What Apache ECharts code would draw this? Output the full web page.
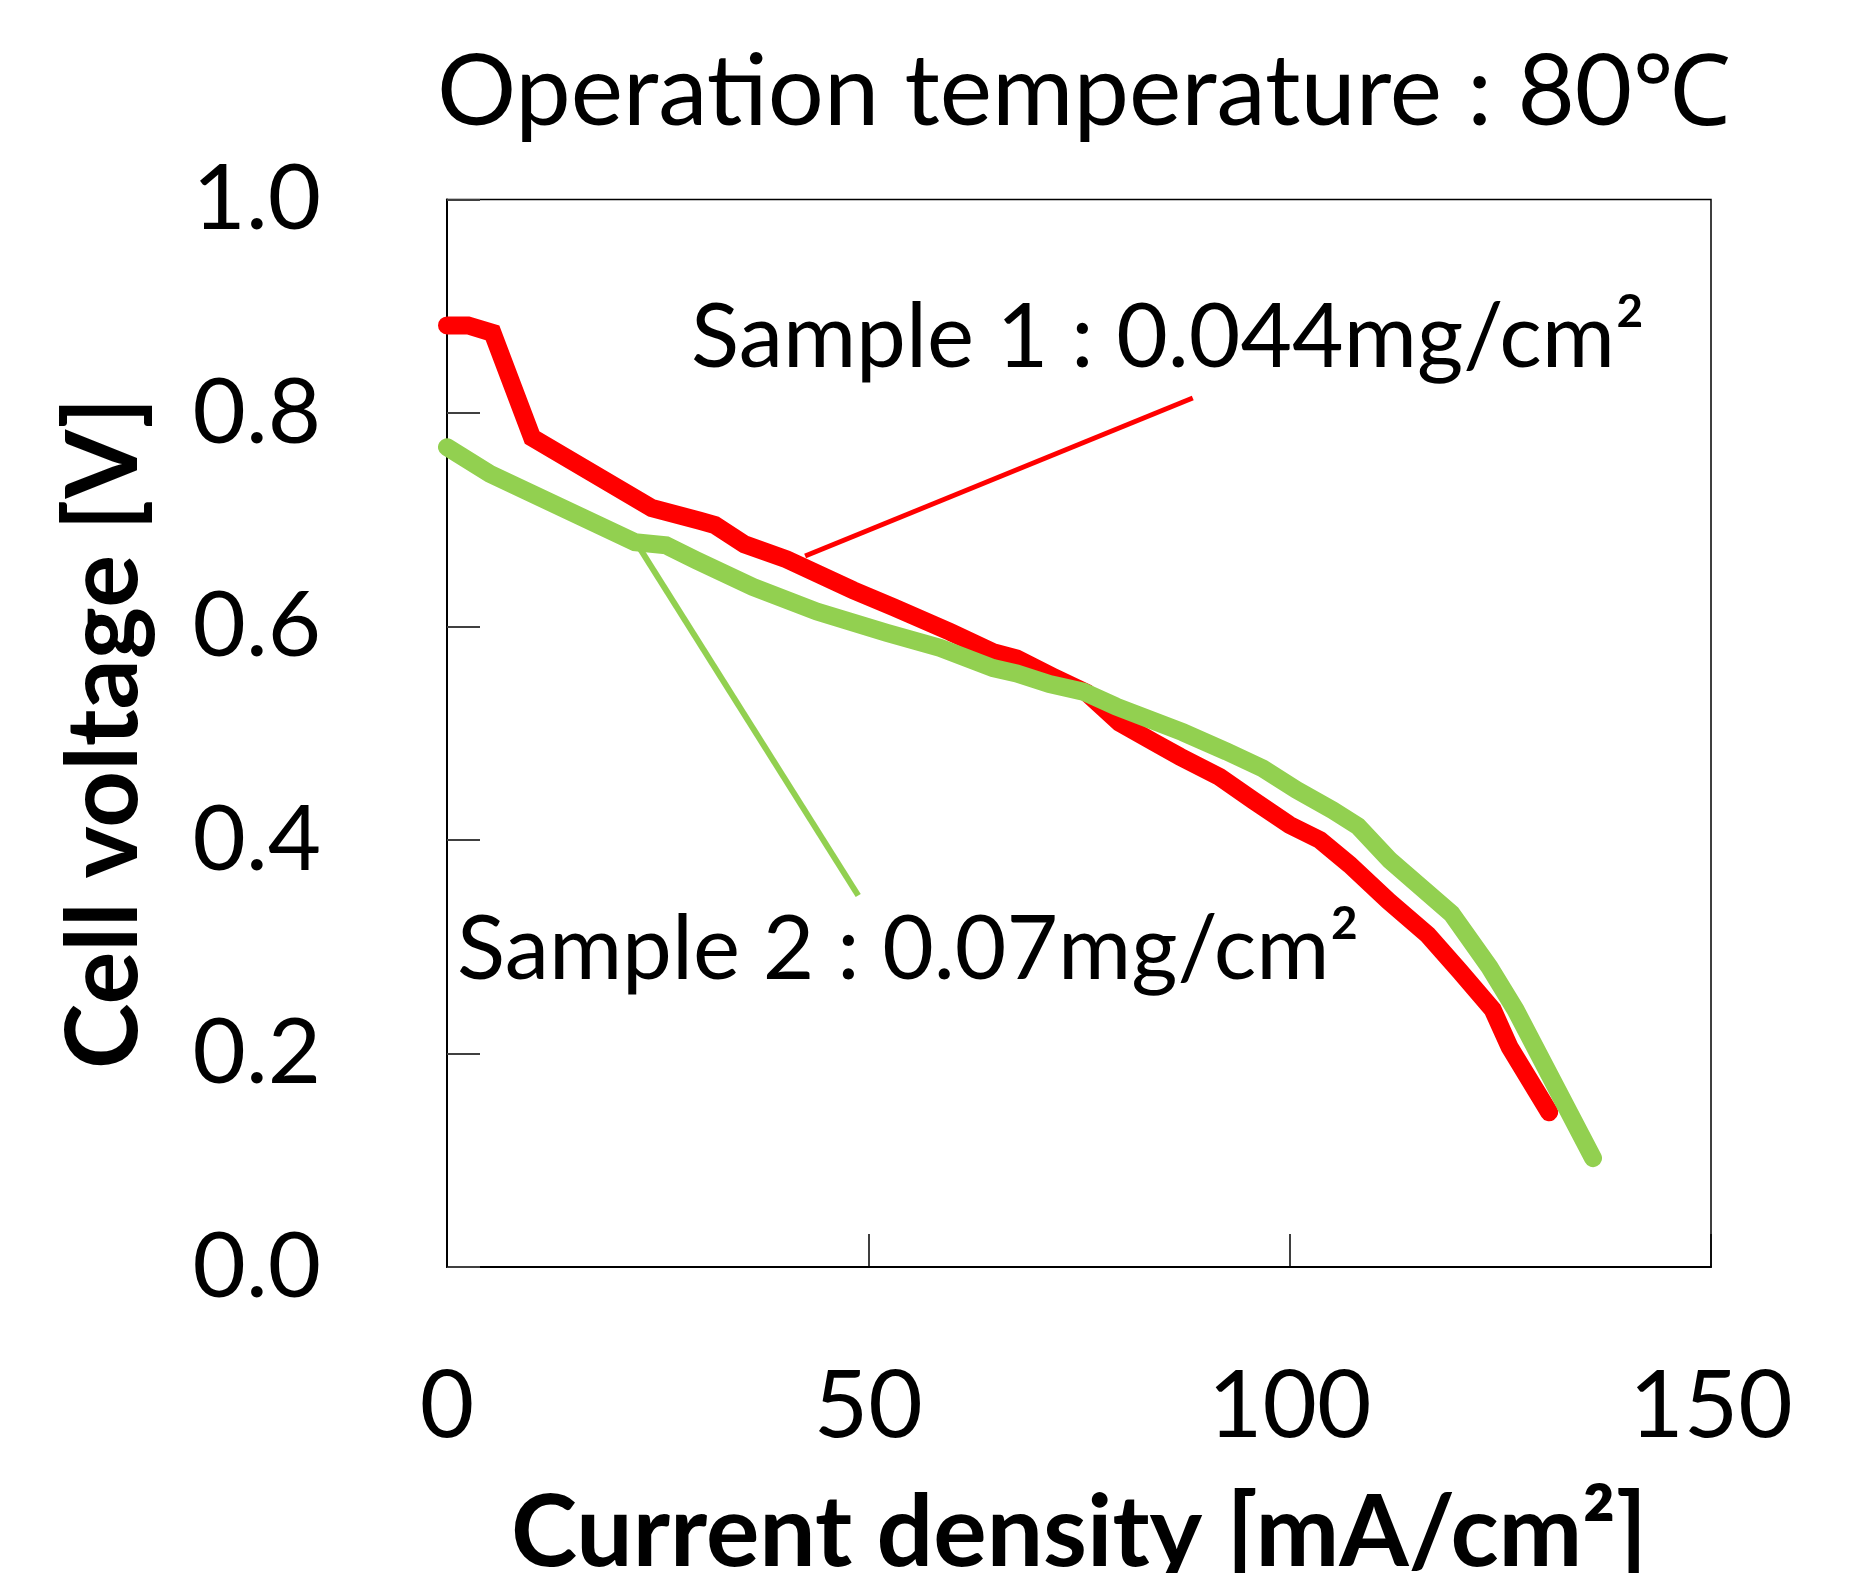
<!DOCTYPE html>
<html><head><meta charset="utf-8">
<script src="https://cdn.jsdelivr.net/npm/echarts@6/dist/echarts.min.js"></script>
<style>html,body{margin:0;padding:0;background:#fff}#c{width:1851px;height:1573px}</style>
</head><body><div id="c"></div>
<script>
// Sample 1 : 0.044 mg/cm2  [current density mA/cm2, cell voltage V]
const sample1 = [[0,0.882],[2.5,0.882],[5.4,0.875],[10.1,0.777],[24.3,0.711],[30.0,0.699],[31.8,0.695],[35.3,0.677],[40.3,0.663],[48.2,0.634],[53.0,0.618],[59.7,0.595],[64.8,0.576],[67.6,0.570],[71.9,0.553],[75.9,0.538],[79.8,0.510],[83.8,0.492],[87.0,0.478],[91.7,0.459],[95.7,0.437],[100.0,0.414],[103.6,0.400],[107.1,0.377],[111.7,0.343],[116.4,0.311],[120.2,0.277],[124.1,0.241],[126.1,0.206],[130.8,0.145]];
// Sample 2 : 0.07 mg/cm2
const sample2 = [[0,0.768],[5.1,0.743],[22.3,0.679],[26.0,0.676],[29.6,0.662],[36.3,0.637],[43.9,0.614],[52.2,0.594],[58.5,0.580],[64.8,0.561],[67.6,0.556],[71.5,0.546],[75.5,0.539],[79.4,0.525],[87.3,0.501],[92.5,0.483],[96.8,0.467],[100.8,0.447],[105.1,0.428],[108.1,0.413],[111.9,0.381],[119.2,0.331],[123.7,0.281],[126.8,0.241],[136.0,0.102]];
// leader lines from labels to curves
const leader1 = [[42.5,0.666],[88.5,0.814]];
const leader2 = [[22.9,0.673],[48.8,0.348]];
const titleText = 'Operation temperature : 80\u2103';
const label1Text = 'Sample 1 : 0.044mg/cm\u00b2';
const label2Text = 'Sample 2 : 0.07mg/cm\u00b2';
const xName = 'Current density [mA/cm\u00b2]';
const yName = 'Cell voltage [V]';

const FONT = 'Lato, "Open Sans", sans-serif';
const chart = echarts.init(document.getElementById('c'));
chart.setOption({
  animation: false,
  backgroundColor: '#fff',
  grid: {left: 447, right: 140, top: 199.5, bottom: 306, containLabel: false, outerBoundsMode: 'none',
         show: true, borderColor: '#000', borderWidth: 1.5},
  xAxis: {
    type: 'value', min: 0, max: 150, interval: 50,
    name: xName, nameLocation: 'middle', nameGap: 217,
    nameTextStyle: {fontFamily: FONT, fontSize: 100, fontWeight: 'bold', color: '#000'},
    axisLine: {show: true, onZero: false, lineStyle: {color: '#000', width: 2}},
    axisTick: {show: true, inside: true, length: 33, lineStyle: {color: '#000', width: 1.5}},
    axisLabel: {fontFamily: FONT, fontSize: 94, color: '#000', margin: 93},
    splitLine: {show: false}
  },
  yAxis: {
    type: 'value', min: 0, max: 1, interval: 0.2,
    name: yName, nameLocation: 'middle', nameGap: 292,
    nameTextStyle: {fontFamily: FONT, fontSize: 99, fontWeight: 'bold', color: '#000'},
    axisLine: {show: true, onZero: false, lineStyle: {color: '#000', width: 2}},
    axisTick: {show: true, inside: true, length: 33, lineStyle: {color: '#404040', width: 2}},
    axisLabel: {fontFamily: FONT, fontSize: 92, color: '#000', margin: 126, formatter: v => v.toFixed(1)},
    splitLine: {show: false}
  },
  graphic: [
    {type: 'text', left: 437, top: 44, style: {text: titleText, font: 'normal 99px ' + FONT, fill: '#000'}},
    {type: 'text', left: 691, top: 294, style: {text: label1Text, font: 'normal 89px ' + FONT, fill: '#000'}},
    {type: 'text', left: 457, top: 906, style: {text: label2Text, font: 'normal 89px ' + FONT, fill: '#000'}}
  ],
  series: [
    {type: 'line', data: leader1, showSymbol: false, silent: true, lineStyle: {color: '#FF0000', width: 5}, z: 1},
    {type: 'line', data: leader2, showSymbol: false, silent: true, lineStyle: {color: '#92D050', width: 6}, z: 1},
    {type: 'line', data: sample1, showSymbol: false, clip: true, lineStyle: {color: '#FF0000', width: 18, cap: 'round', join: 'miter'}, z: 2},
    {type: 'line', data: sample2, showSymbol: false, clip: true, lineStyle: {color: '#92D050', width: 18, cap: 'round', join: 'miter'}, z: 3}
  ]
});
</script></body></html>
